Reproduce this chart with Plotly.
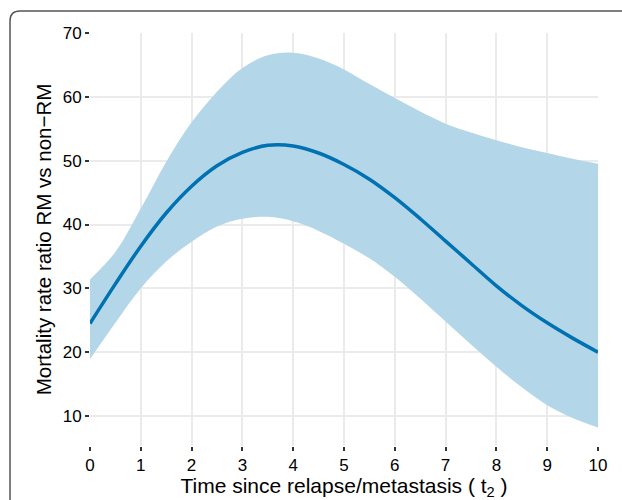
import plotly.graph_objects as go

t = [0, 0.5, 1, 1.5, 2, 2.5, 3, 3.5, 4, 4.5, 5, 5.5, 6, 6.5, 7, 7.5, 8, 8.5, 9, 9.5, 10]
ratio = [24.5, 30.7, 36.6, 41.8, 46.0, 49.2, 51.3, 52.4, 52.3, 51.2, 49.4, 47.1, 44.2, 40.9, 37.4, 33.9, 30.4, 27.3, 24.6, 22.2, 20.0]
upper = [31.4, 35.7, 42.5, 49.8, 56.0, 60.8, 64.5, 66.5, 66.9, 66.0, 64.3, 62.0, 59.8, 57.7, 55.8, 54.4, 53.2, 52.1, 51.2, 50.3, 49.5]
lower = [18.9, 24.6, 30.0, 34.2, 37.3, 39.7, 40.9, 41.2, 40.5, 39.0, 37.0, 34.7, 31.8, 28.4, 24.8, 21.2, 17.7, 14.5, 11.7, 9.7, 8.2]
x_ticks = [0, 1, 2, 3, 4, 5, 6, 7, 8, 9, 10]
y_ticks = [10, 20, 30, 40, 50, 60, 70]

fig = go.Figure()
fig.add_trace(go.Scatter(x=t, y=lower, mode="lines", line=dict(width=0, shape="spline"),
                         showlegend=False, hoverinfo="skip"))
fig.add_trace(go.Scatter(x=t, y=upper, mode="lines", line=dict(width=0, shape="spline"),
                         fill="tonexty", fillcolor="rgb(179,214,232)", showlegend=False, hoverinfo="skip"))
fig.add_trace(go.Scatter(x=t, y=ratio, mode="lines", line=dict(color="rgb(0,114,178)", width=3.5, shape="spline"),
                         showlegend=False))

font_family = "Liberation Sans, Arial, sans-serif"
fig.update_layout(
    width=622, height=500,
    margin=dict(l=90, r=24, t=33, b=54),
    paper_bgcolor="white", plot_bgcolor="white",
    font=dict(family=font_family, color="black"),
    xaxis=dict(range=[0, 10], tickvals=x_ticks, showgrid=True, gridcolor="#EBEBEB", gridwidth=1.5,
               zeroline=False, showline=False, ticks="outside", ticklen=4, tickwidth=1.5, tickcolor="#333333",
               tickfont=dict(size=17, family=font_family, color="black"), automargin=False,
               title=dict(text="Time since relapse/metastasis ( t<sub>2</sub> )", font=dict(size=21, family=font_family), standoff=6)),
    yaxis=dict(range=[5.3, 70], tickvals=y_ticks, showgrid=True, gridcolor="#EBEBEB", gridwidth=1.5,
               zeroline=False, showline=False, ticks="outside", ticklen=4, tickwidth=1.5, tickcolor="#333333",
               tickfont=dict(size=17, family=font_family, color="black"), automargin=False,
               title=dict(text="Mortality rate ratio RM vs non\u2212RM", font=dict(size=20.5, family=font_family), standoff=5)),
)

# rounded frame around the figure panel
L, R, T, B = 90, 598, 33, 446
def px(v):
    return (v - L) / (R - L)
def py(v):
    return (B - v) / (B - T)
x0, y0, r = 10, 11, 10
x1, y1 = 700, 600
path = (f"M {px(x0)},{py(y1)} L {px(x0)},{py(y0 + r)} "
        f"Q {px(x0)},{py(y0)} {px(x0 + r)},{py(y0)} L {px(x1)},{py(y0)}")
fig.add_shape(type="path", xref="paper", yref="paper", path=path,
              line=dict(color="#555555", width=1.5), layer="above")

fig.write_html("out.html", config={"displayModeBar": False},
               post_script="document.body.style.margin='0';document.body.style.overflow='hidden';")
